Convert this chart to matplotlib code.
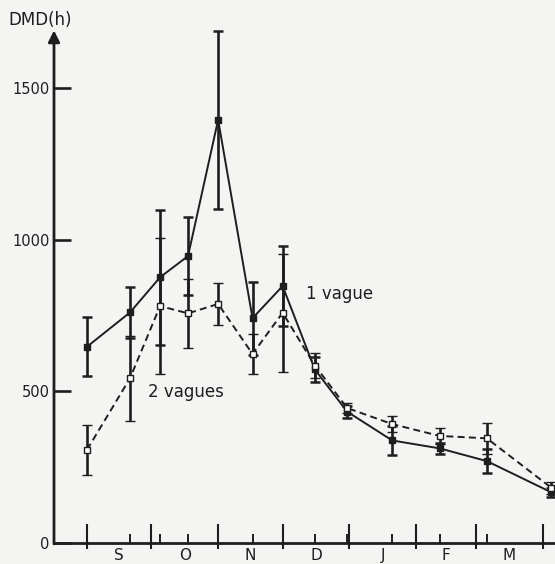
import matplotlib
matplotlib.use('Agg')
import matplotlib.pyplot as plt
import numpy as np

# days counted from 1 September
days = [0, 20, 34, 47, 61, 77, 91, 106, 121, 142, 164, 186, 216]

one_vague = [647, 760, 876, 946, 1395, 741, 847, 572, 433, 338, 312, 270, 167]
one_err = [98, 85, 222, 130, 293, 120, 132, 40, 20, 48, 18, 40, 15]

two_vagues = [307, 543, 781, 757, 788, 623, 759, 585, 445, 392, 353, 345, 182]
two_err = [83, 140, 225, 113, 69, 65, 194, 40, 18, 25, 27, 52, 20]

month_starts = [0, 30, 61, 91, 122, 153, 181, 212]
month_names = ['S', 'O', 'N', 'D', 'J', 'F', 'M']
yticks = [0, 500, 1000, 1500]

ink = '#1e1e1e'
paper = '#f4f4f2'

fig = plt.figure(figsize=(5.55, 5.64), dpi=100, facecolor=paper)
ax = fig.add_axes([54/555, 21/564, 501/555, 533/564])
ax.set_facecolor(paper)
ax.set_xlim(-15.35, 217.7)
ax.set_ylim(0, 1757)

# 1 vague : filled squares, solid line
ax.errorbar(days, one_vague, yerr=one_err, color=ink, lw=1.4, elinewidth=1.9,
            capsize=3.8, capthick=1.8, marker='s', ms=4.3, mfc=ink, mec=ink,
            clip_on=False, zorder=3)
# 2 vagues : open squares, dashed line
ax.errorbar(days, two_vagues, yerr=two_err, color=ink, lw=1.4, ls=(0, (3.6, 2.2)),
            elinewidth=1.9, capsize=3.8, capthick=1.8, marker='s', ms=4.8,
            mfc='white', mec=ink, mew=1.0, clip_on=False, zorder=4)

for s in ['top', 'right', 'left']:
    ax.spines[s].set_visible(False)
ax.spines['bottom'].set_linewidth(2.0)
ax.spines['bottom'].set_color(ink)

# y axis with arrow
ax.annotate('', xy=(0, 1690), xytext=(0, -3),
            xycoords=('axes fraction', 'data'), textcoords=('axes fraction', 'data'),
            arrowprops=dict(arrowstyle='-|>', lw=2.0, color=ink, mutation_scale=17,
                            shrinkA=0, shrinkB=0), annotation_clip=False)

ax.set_yticks(yticks)
ax.set_yticklabels([str(v) for v in yticks])
ax.tick_params(axis='y', direction='in', length=12, width=1.9, color=ink,
               labelsize=10.5, labelcolor=ink, pad=3)

ax.set_xticks(month_starts)
ax.set_xticklabels([])
ax.set_xticks([d for d in days[1:-1] if d not in month_starts], minor=True)
ax.tick_params(axis='x', which='major', direction='in', length=13.5, width=1.5, color=ink)
ax.tick_params(axis='x', which='minor', direction='in', length=6.5, width=1.4, color=ink)

# short stubs below the axis at month boundaries
sec = ax.secondary_xaxis('bottom')
sec.set_xticks(month_starts)
sec.set_xticklabels([])
sec.spines['bottom'].set_visible(False)
sec.tick_params(direction='out', length=4, width=1.5, color=ink)

for i, name in enumerate(month_names):
    mid = (month_starts[i] + month_starts[i + 1]) / 2
    ax.text(mid, -67, name, ha='center', va='bottom', fontsize=11, color=ink, clip_on=False)

ax.text(102, 821, '1 vague', ha='left', va='center', fontsize=12, color=ink)
ax.text(28.5, 498, '2 vagues', ha='left', va='center', fontsize=12, color=ink)

fig.text(8/555, 1 - 20/564, 'DMD(h)', ha='left', va='center', fontsize=12, color=ink)

fig.savefig('out.png', dpi=100, facecolor=paper)
